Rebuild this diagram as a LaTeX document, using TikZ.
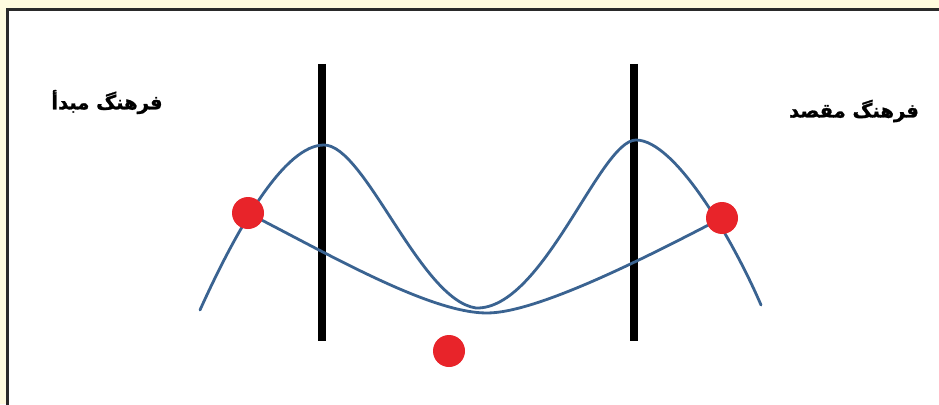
\documentclass[tikz,border=0pt]{standalone}
\usepackage{fontspec}
\newfontfamily\arabicfont[Script=Arabic,FakeBold=1.2]{DejaVu Sans Bold}
\TeXXeTstate=1
\definecolor{bgyellow}{HTML}{FFFBDF}
\definecolor{frame}{HTML}{2A2A2A}
\definecolor{wave}{HTML}{3A6391}
\definecolor{dotred}{HTML}{E8242A}
\tikzset{
  wavestyle/.style={draw=wave, line width=2.8pt, line cap=round},
  barstyle/.style={draw=black, line width=8.5pt},
  dotstyle/.style={circle, fill=dotred, inner sep=0pt, minimum size=32pt},
  labelstyle/.style={font=\arabicfont\fontsize{19.5}{22}\selectfont, text=black, inner sep=0pt}
}
\begin{document}
\begin{tikzpicture}[x=1pt,y=-1pt]
\useasboundingbox (0,0) rectangle (939,404);
\clip (0,0) rectangle (939,404);
\fill[bgyellow] (0,0) rectangle (939,404);
\draw[frame, fill=white, line width=2.8pt] (7.8,9.5) rectangle (950,420);

% vertical bars
\coordinate (b1t) at (322,64);
\coordinate (b1b) at (322,341);
\coordinate (b2t) at (634,64);
\coordinate (b2b) at (634,341);
\draw[barstyle] (b1t) -- (b1b);
\draw[barstyle] (b2t) -- (b2b);

% waves
\coordinate (w0) at (200,310);
\coordinate (p1) at (324,145);
\coordinate (m1) at (476,308);
\coordinate (p2) at (636,140);
\coordinate (w1) at (761,305);
\draw[wavestyle] (w0) .. controls (238,226) and (285,145) .. (p1)
  .. controls (365,145) and (420,300) .. (m1)
  .. controls (543,310) and (600,140) .. (p2)
  .. controls (675,140) and (733,240) .. (w1);

\coordinate (d1c) at (248,213);
\coordinate (m2) at (487,313);
\coordinate (d2c) at (722,218);
\draw[wavestyle] (d1c) .. controls (330,255) and (430,313) .. (m2)
  .. controls (540,313) and (660,250) .. (d2c);

% dots
\node[dotstyle] (d1) at (d1c) {};
\node[dotstyle] (d2) at (d2c) {};
\node[dotstyle] (d3) at (449,351) {};

% labels
\node[labelstyle] (src) at (107,102) {\beginR فرهنگ مبدأ\endR};
\node[labelstyle] (dst) at (854,111) {\beginR فرهنگ مقصد\endR};
\end{tikzpicture}
\end{document}
